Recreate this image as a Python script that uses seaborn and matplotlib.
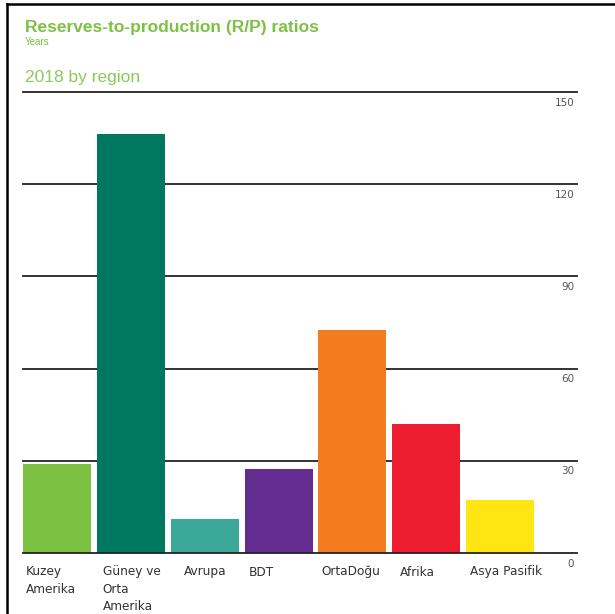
import matplotlib
matplotlib.use("Agg")
import matplotlib.pyplot as plt
import matplotlib.transforms as mtransforms
from matplotlib.lines import Line2D
import pandas as pd
import seaborn as sns

# data (R/P ratio, years, 2018)
regions = ["Kuzey\nAmerika", "Güney ve\nOrta\nAmerika", "Avrupa", "BDT",
           "OrtaDoğu", "Afrika", "Asya Pasifik"]
rp_years = [29.0, 136.2, 11.1, 27.4, 72.4, 41.9, 17.1]
bar_colors = ["#7DC142", "#00775F", "#3CA89A", "#632D8F",
              "#F47B20", "#ED1C2E", "#FFE512"]
y_ticks = [0, 30, 60, 90, 120, 150]

df = pd.DataFrame({"region": regions, "years": rp_years})

W, H = 615, 614
fig = plt.figure(figsize=(W / 100, H / 100), dpi=100)
ax = fig.add_axes([23 / W, (H - 553) / H, (577 - 23) / W, (553 - 92) / H])

sns.barplot(data=df, x="region", y="years", hue="region", palette=bar_colors,
            width=0.92, legend=False, saturation=1, edgecolor="none", ax=ax, zorder=3)

ax.set_xlim(-0.46, 7.04)
ax.set_ylim(0, 150)
for s in ax.spines.values():
    s.set_visible(False)
ax.set_xticks([])
ax.set_yticks([])
ax.set_xlabel("")
ax.set_ylabel("")

# horizontal rules and value labels at the right end
for v in y_ticks:
    ax.axhline(v, color="#222222", lw=1.3, zorder=1 if v else 4, clip_on=False)
    off = mtransforms.offset_copy(mtransforms.blended_transform_factory(ax.transAxes, ax.transData),
                                  fig=fig, x=-2, y=-4, units="points")
    ax.text(1.0, v, str(v), transform=off, ha="right", va="top",
            fontsize=7.5, color="#555555")

# category labels, left-aligned under each bar
name_off = [3, 6, 13, 4, 3, 8, 4]
for i, name in enumerate(regions):
    off = mtransforms.offset_copy(ax.transData, fig=fig, x=name_off[i] * 0.72, y=-9,
                                  units="points")
    ax.text(i - 0.46, 0, name, transform=off, ha="left", va="top",
            fontsize=8.7, color="#333333", linespacing=1.45)

# titles
green = "#7DC142"
fig.text(25 / W, 1 - 32 / H, "Reserves-to-production (R/P) ratios", fontsize=12.5,
         fontweight="bold", color=green, family="Liberation Sans", va="baseline")
fig.text(25 / W, 1 - 45 / H, "Years", fontsize=7, color=green,
         family="Liberation Sans", va="baseline")
fig.text(25 / W, 1 - 82 / H, "2018 by region", fontsize=12.5, color="#8CC85A",
         family="Liberation Sans", va="baseline")

# frame at top and left
fig.add_artist(Line2D([7 / W, 1], [1 - 4 / H, 1 - 4 / H], transform=fig.transFigure,
                      color="black", lw=1.8))
fig.add_artist(Line2D([7 / W, 7 / W], [0, 1 - 4 / H], transform=fig.transFigure,
                      color="black", lw=1.8))

fig.savefig("out.png", dpi=100)
